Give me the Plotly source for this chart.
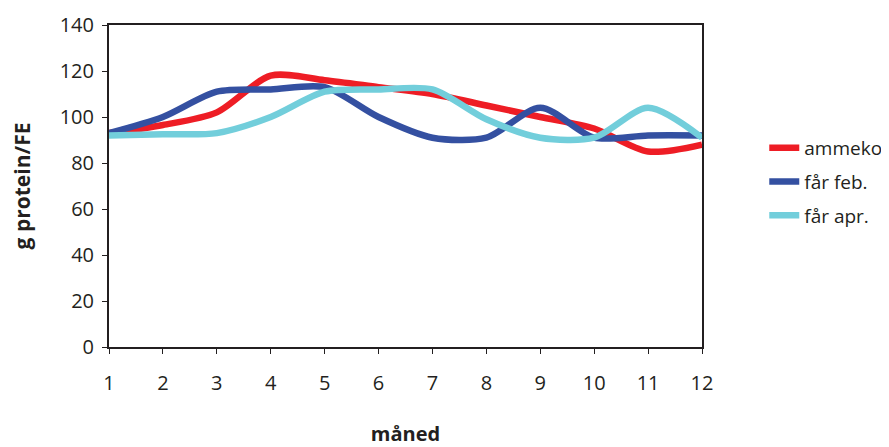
import plotly.graph_objects as go

months = list(range(1, 13))
ammeko = [93, 96.5, 102, 118, 116, 113, 110, 105, 100, 95, 85, 88]
faar_feb = [93, 100, 111, 112, 113, 100, 91, 91, 104, 91, 92, 92]
faar_apr = [92, 92.5, 93, 100, 111, 112, 112, 99, 91, 91, 104, 91]
y_ticks = [0, 20, 40, 60, 80, 100, 120, 140]

series = [("ammeko", ammeko, "#EE1D25"), ("får feb.", faar_feb, "#3450A1"), ("får apr.", faar_apr, "#72CEDB")]

fig = go.Figure()
for name, vals, col in series:
    fig.add_trace(go.Scatter(x=months, y=vals, name=name, mode="lines", legendgroup=name,
                             line=dict(color=col, width=6.5, shape="spline", smoothing=0.8)))

font = "Open Sans, Noto Sans, sans-serif"
fig.update_layout(
    width=881, height=439,
    margin=dict(l=101, r=187, t=17, b=100, autoexpand=False),
    paper_bgcolor="white", plot_bgcolor="white",
    font=dict(family=font, size=20, color="#231F20"),
    legend=dict(x=1.105, y=0.677, xanchor="left", yanchor="top", font=dict(size=19),
                bgcolor="rgba(0,0,0,0)", tracegroupgap=6),
    xaxis=dict(range=[1, 12], tickvals=months, showgrid=False, zeroline=False,
               showline=True, linecolor="#231F20", linewidth=2, mirror=True,
               ticks="outside", ticklen=5, tickcolor="#231F20", ticklabelstandoff=12,
               automargin=False,
               title=dict(text="<b>måned</b>", font=dict(size=20), standoff=44)),
    yaxis=dict(range=[0, 140], tickvals=y_ticks, showgrid=False, zeroline=False,
               showline=True, linecolor="#231F20", linewidth=2, mirror=True,
               ticks="outside", ticklen=5, tickcolor="#231F20", ticklabelstandoff=4,
               automargin=False,
               title=dict(text="<b>g protein/FE</b>", font=dict(size=21), standoff=30)),
)
fig.write_html("out.html")
